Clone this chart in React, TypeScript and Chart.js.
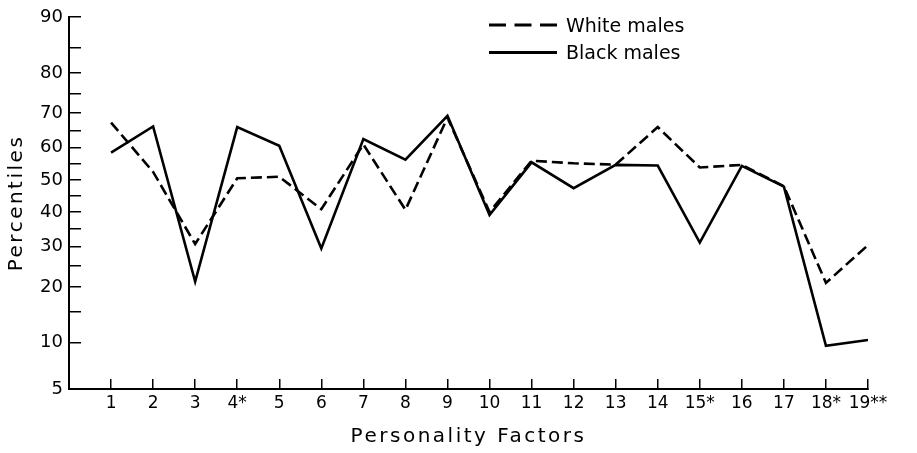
import React, { useEffect, useRef } from 'react';
import { Chart, registerables, LinearScale } from 'chart.js';

Chart.register(...registerables);

// ---- data ----
const FACTORS = [1, 2, 3, 4, 5, 6, 7, 8, 9, 10, 11, 12, 13, 14, 15, 16, 17, 18, 19];
const FACTOR_LABELS = ['1', '2', '3', '4*', '5', '6', '7', '8', '9', '10', '11', '12', '13', '14', '15*', '16', '17', '18*', '19**'];
const WHITE_MALES = [67.4, 52.5, 30.7, 50.5, 51.0, 40.9, 61.0, 40.7, 68.8, 40.0, 56.0, 55.2, 54.8, 66.1, 53.9, 54.7, 48.0, 20.9, 30.4];
const BLACK_MALES = [58.5, 66.3, 21.2, 66.1, 60.6, 29.5, 62.6, 56.3, 69.3, 39.1, 55.5, 47.4, 54.7, 54.5, 31.1, 54.4, 47.9, 9.6, 10.4];
const Y_TICKS = [5, 10, 15, 20, 25, 30, 35, 40, 45, 50, 55, 60, 65, 70, 75, 80, 85, 90];
const Y_LABELED = [5, 10, 20, 30, 40, 50, 60, 70, 80, 90];

const FONT = 'DejaVu Sans';
const TITLE_LETTER_SPACING = '2.5px';

// inverse of the standard normal CDF (Acklam)
function probit(p: number): number {
  const a = [-3.969683028665376e1, 2.209460984245205e2, -2.759285104469687e2, 1.38357751867269e2, -3.066479806614716e1, 2.506628277459239];
  const b = [-5.447609879822406e1, 1.615858368580409e2, -1.556989798598866e2, 6.680131188771972e1, -1.328068155288572e1];
  const c = [-7.784894002430293e-3, -3.223964580411365e-1, -2.400758277161838, -2.549732539343734, 4.374664141464968, 2.938163982698783];
  const d = [7.784695709041462e-3, 3.224671290700398e-1, 2.445134137142996, 3.754408661907416];
  if (p <= 0) return -Infinity;
  if (p >= 1) return Infinity;
  const pl = 0.02425;
  if (p < pl) {
    const q = Math.sqrt(-2 * Math.log(p));
    return (((((c[0] * q + c[1]) * q + c[2]) * q + c[3]) * q + c[4]) * q + c[5]) / ((((d[0] * q + d[1]) * q + d[2]) * q + d[3]) * q + 1);
  }
  if (p <= 1 - pl) {
    const q = p - 0.5;
    const r = q * q;
    return ((((((a[0] * r + a[1]) * r + a[2]) * r + a[3]) * r + a[4]) * r + a[5]) * q) / (((((b[0] * r + b[1]) * r + b[2]) * r + b[3]) * r + b[4]) * r + 1);
  }
  const q = Math.sqrt(-2 * Math.log(1 - p));
  return -(((((c[0] * q + c[1]) * q + c[2]) * q + c[3]) * q + c[4]) * q + c[5]) / ((((d[0] * q + d[1]) * q + d[2]) * q + d[3]) * q + 1);
}

function normCdf(z: number): number {
  const t = 1 / (1 + 0.3275911 * Math.abs(z) / Math.SQRT2);
  const y = 1 - (((((1.061405429 * t - 1.453152027) * t) + 1.421413741) * t - 0.284496736) * t + 0.254829592) * t * Math.exp(-(z * z) / 2);
  return z >= 0 ? 0.5 * (1 + y) : 0.5 * (1 - y);
}

function drawSpacedTitle(scale: any, draw: () => void) {
  const ctx = scale.ctx as any;
  const prev = ctx.letterSpacing;
  ctx.letterSpacing = TITLE_LETTER_SPACING;
  draw();
  ctx.letterSpacing = prev ?? '0px';
}

// normal-probability (percentile) axis
class ProbitScale extends (LinearScale as any) {
  static id = 'probit';
  static defaults = {};
  buildTicks() {
    return Y_TICKS.map((v) => ({ value: v }));
  }
  getPixelForValue(value: any) {
    if (value === null || value === undefined || isNaN(value)) return NaN;
    const z0 = probit(this.min / 100);
    const z1 = probit(this.max / 100);
    return this.getPixelForDecimal((probit(value / 100) - z0) / (z1 - z0));
  }
  getValueForPixel(pixel: number) {
    const z0 = probit(this.min / 100);
    const z1 = probit(this.max / 100);
    const dec = this.getDecimalForPixel(pixel);
    return 100 * normCdf(z0 + dec * (z1 - z0));
  }
  drawTitle() {
    drawSpacedTitle(this, () => super.drawTitle());
  }
}

class SpacedLinearScale extends (LinearScale as any) {
  static id = 'spacedLinear';
  static defaults = {};
  drawTitle() {
    drawSpacedTitle(this, () => super.drawTitle());
  }
}

Chart.register(ProbitScale as any, SpacedLinearScale as any);

const insetLegend = {
  id: 'insetLegend',
  afterDraw(chart: any, _args: any, opts: any) {
    const ctx = chart.ctx;
    ctx.save();
    chart.data.datasets.forEach((ds: any, i: number) => {
      const y = opts.y + i * opts.rowHeight;
      ctx.beginPath();
      ctx.setLineDash(ds.borderDash && ds.borderDash.length ? opts.dash : []);
      ctx.lineWidth = opts.lineWidth;
      ctx.strokeStyle = ds.borderColor;
      ctx.moveTo(opts.x, y);
      ctx.lineTo(opts.x + opts.sampleWidth, y);
      ctx.stroke();
      ctx.setLineDash([]);
      ctx.fillStyle = opts.color;
      ctx.font = `${opts.fontSize}px "${FONT}"`;
      ctx.textAlign = 'left';
      ctx.textBaseline = 'middle';
      ctx.fillText(ds.label, opts.x + opts.sampleWidth + opts.gap, y + opts.textDy);
    });
    ctx.restore();
  },
};

export default function App() {
  const canvasRef = useRef<HTMLCanvasElement | null>(null);

  useEffect(() => {
    const canvas = canvasRef.current;
    if (!canvas) return;
    const chart = new Chart(canvas, {
      type: 'line',
      data: {
        datasets: [
          {
            label: 'White males',
            data: FACTORS.map((f, i) => ({ x: f, y: WHITE_MALES[i] })),
            borderColor: '#000',
            borderWidth: 2.6,
            borderDash: [11, 5],
            pointRadius: 0,
            tension: 0,
            fill: false,
          },
          {
            label: 'Black males',
            data: FACTORS.map((f, i) => ({ x: f, y: BLACK_MALES[i] })),
            borderColor: '#000',
            borderWidth: 2.6,
            pointRadius: 0,
            tension: 0,
            fill: false,
          },
        ],
      },
      options: {
        responsive: false,
        animation: false,
        layout: { padding: { top: 17, right: 49, left: 0, bottom: 0 } },
        plugins: {
          legend: { display: false },
          tooltip: { enabled: false },
          insetLegend: {
            x: 489,
            y: 25,
            rowHeight: 27.5,
            sampleWidth: 68,
            gap: 9,
            dash: [17, 8.5],
            lineWidth: 3,
            fontSize: 19,
            textDy: 2,
            color: '#000',
          },
        } as any,
        scales: {
          x: {
            type: 'spacedLinear' as any,
            min: 0,
            max: 19,
            afterBuildTicks: (s: any) => {
              s.ticks = FACTORS.map((v) => ({ value: v }));
            },
            afterFit: (s: any) => {
              s.height = 64;
              s.paddingLeft = 0;
              s.paddingRight = 0;
              s.paddingTop = 0;
              s.paddingBottom = 0;
            },
            ticks: {
              autoSkip: false,
              maxRotation: 0,
              padding: 14,
              color: '#000',
              font: { family: FONT, size: 17 },
              callback: (v: any) => {
                const i = FACTORS.indexOf(Number(v));
                return i >= 0 ? FACTOR_LABELS[i] : '';
              },
            },
            grid: { drawOnChartArea: false, drawTicks: true, tickLength: -10, color: '#000', lineWidth: 1.5 },
            border: { display: true, color: '#000', width: 2 },
            title: {
              display: true,
              text: 'Personality Factors',
              color: '#000',
              font: { family: FONT, size: 20 },
              padding: { top: 0, bottom: 4 },
            },
          } as any,
          y: {
            type: 'probit' as any,
            min: 5,
            max: 90,
            afterFit: (s: any) => {
              s.width = 69;
              s.paddingLeft = 0;
              s.paddingRight = 0;
              s.paddingTop = 0;
              s.paddingBottom = 0;
            },
            ticks: {
              autoSkip: false,
              padding: 18,
              color: '#000',
              font: { family: FONT, size: 18 },
              callback: (v: any) => (Y_LABELED.includes(Number(v)) ? String(v) : ''),
            },
            grid: { drawOnChartArea: false, drawTicks: true, tickLength: -12, color: '#000', lineWidth: 1.5 },
            border: { display: true, color: '#000', width: 2 },
            title: {
              display: true,
              text: 'Percentiles',
              color: '#000',
              font: { family: FONT, size: 20 },
              padding: { top: 5, bottom: 0 },
            },
          } as any,
        },
      },
      plugins: [insetLegend as any],
    });
    return () => chart.destroy();
  }, []);

  return (
    <div style={{ position: 'fixed', left: 0, top: 0, width: 917, height: 453, background: '#fff' }}>
      <canvas ref={canvasRef} width={917} height={453} style={{ display: 'block' }} />
    </div>
  );
}
